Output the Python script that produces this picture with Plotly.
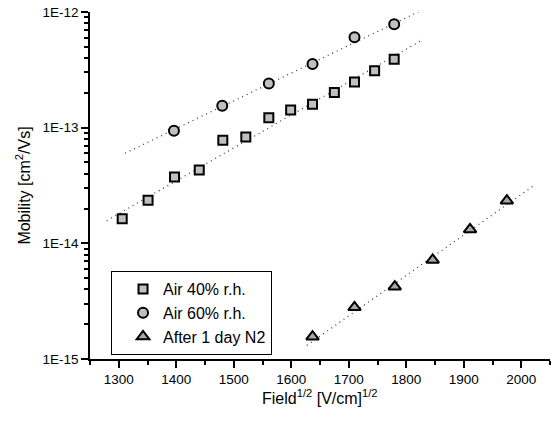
import plotly.graph_objects as go

# Data
x_air40 = [1306, 1351, 1397, 1440, 1481, 1521, 1561, 1599, 1637, 1675, 1710, 1745, 1779]
y_air40 = [1.63e-14, 2.36e-14, 3.75e-14, 4.31e-14, 7.78e-14, 8.31e-14, 1.22e-13,
           1.42e-13, 1.59e-13, 2.01e-13, 2.48e-13, 3.11e-13, 3.90e-13]

x_air60 = [1396, 1480, 1561, 1637, 1710, 1779]
y_air60 = [9.42e-14, 1.55e-13, 2.41e-13, 3.55e-13, 6.04e-13, 7.83e-13]

x_n2 = [1637, 1710, 1780, 1846, 1911, 1975]
y_n2 = [1.56e-15, 2.80e-15, 4.22e-15, 7.19e-15, 1.32e-14, 2.34e-14]

# Dotted fit lines (end points)
fit_air40_x = [1279, 1830]
fit_air40_y = [1.57e-14, 5.81e-13]
fit_air60_x = [1311, 1824]
fit_air60_y = [6.01e-14, 1.02e-12]
fit_n2_x = [1627, 2021]
fit_n2_y = [1.31e-15, 3.13e-14]

y_major = [1e-15, 1e-14, 1e-13, 1e-12]
y_major_text = ["1E-15", "1E-14", "1E-13", "1E-12"]
mantissas = [2, 3, 4, 5, 6, 7, 8, 9]
y_minor = [m * d for d in [1e-15, 1e-14, 1e-13] for m in mantissas]

FONT = "Liberation Sans, Arial, sans-serif"

fig = go.Figure()

for fx, fy in [(fit_air40_x, fit_air40_y), (fit_air60_x, fit_air60_y), (fit_n2_x, fit_n2_y)]:
    fig.add_trace(go.Scatter(x=fx, y=fy, mode="lines", showlegend=False,
                             line=dict(color="#333333", width=1.2, dash="1px,4px"),
                             hoverinfo="skip"))

fig.add_trace(go.Scatter(x=x_air40, y=y_air40, mode="markers", name="Air 40% r.h.",
                         marker=dict(symbol="square", size=9, color="#c0c0c0",
                                     line=dict(color="black", width=2))))
fig.add_trace(go.Scatter(x=x_air60, y=y_air60, mode="markers", name="Air 60% r.h.",
                         marker=dict(symbol="circle", size=10, color="#c0c0c0",
                                     line=dict(color="black", width=2))))
fig.add_trace(go.Scatter(x=x_n2, y=y_n2, mode="markers", name="After 1 day N2",
                         marker=dict(symbol="triangle-up", size=11, color="#a8a8a8",
                                     line=dict(color="black", width=2))))

fig.update_layout(
    width=554, height=421,
    margin=dict(l=90, r=4, t=12, b=62, autoexpand=False),
    paper_bgcolor="white", plot_bgcolor="white",
    font=dict(family=FONT, size=13.5, color="black"),
    legend=dict(x=0.0457, y=0.2536, xanchor="left", yanchor="top",
                bgcolor="white", bordercolor="black", borderwidth=1,
                font=dict(family=FONT, size=16, color="black"),
                tracegroupgap=0, itemwidth=30, indentation=11),
    annotations=[dict(text="Field<sup>1/2</sup> [V/cm]<sup>1/2</sup>",
                      xref="paper", yref="paper", x=0.5, y=-0.0749,
                      xanchor="center", yanchor="top", showarrow=False,
                      font=dict(family=FONT, size=16, color="black"))],
)

fig.update_xaxes(
    range=[1250, 2050], dtick=100, tick0=1300, automargin=False,
    showline=True, linecolor="black", linewidth=1.5,
    ticks="outside", ticklen=7, tickwidth=1.5, tickcolor="black",
    showgrid=False, zeroline=False,
    tickfont=dict(family=FONT, size=13.5),
    minor=dict(dtick=50, tick0=1250, ticks="outside", ticklen=4, tickwidth=1.5,
               tickcolor="black", showgrid=False),
)

fig.update_yaxes(
    type="log", range=[-15, -12], automargin=False,
    tickmode="array", tickvals=y_major, ticktext=y_major_text,
    showline=True, linecolor="black", linewidth=1.5,
    ticks="outside", ticklen=7, tickwidth=1.5, tickcolor="black",
    showgrid=False, zeroline=False, ticklabeloverflow="allow",
    tickfont=dict(family=FONT, size=13.5),
    minor=dict(tickmode="array", tickvals=y_minor, ticks="outside", ticklen=4,
               tickwidth=1.5, tickcolor="black", showgrid=False),
    title=dict(text="Mobility [cm<sup>2</sup>/Vs]",
               font=dict(family=FONT, size=16), standoff=8),
)

fig.write_html("out.html", config={"displayModeBar": False},
               post_script="document.body.style.margin='0';")
